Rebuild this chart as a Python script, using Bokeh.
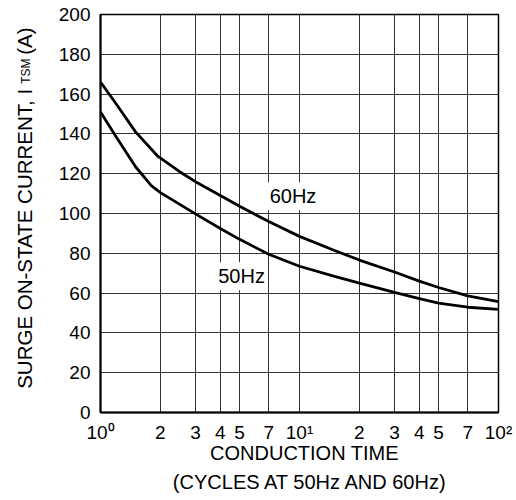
import math
from bokeh.plotting import figure
from bokeh.models import FixedTicker, Label, ColumnDataSource
from bokeh.embed import file_html
from bokeh.resources import INLINE

# ---- data ----
x_60hz = [1, 1.2, 1.5, 1.93, 2.5, 3, 4, 5, 7, 10, 15, 20, 30, 40, 50, 70, 100]
y_60hz = [166, 155, 141, 129, 121, 116, 109, 103.6, 96, 88.5, 81.4, 76.6, 70.6, 66, 62.8, 58.6, 55.7]

x_50hz = [1, 1.2, 1.5, 1.8, 2, 3, 4, 5, 7, 10, 15, 20, 30, 40, 50, 70, 100]
y_50hz = [151, 138.5, 123.5, 114, 110.5, 99.8, 92.5, 87, 79.5, 73.5, 68.4, 65, 60.4, 57.2, 55, 52.9, 51.8]

x_ticks = [1, 2, 3, 4, 5, 7, 10, 20, 30, 40, 50, 70, 100]
x_tick_labels = ["10\u2070", "2", "3", "4", "5", "7", "10\u00b9", "2", "3", "4", "5", "7", "10\u00b2"]
y_ticks = [0, 20, 40, 60, 80, 100, 120, 140, 160, 180, 200]

curve_labels = ["60Hz", "50Hz"]
x_title_lines = ["CONDUCTION TIME", "(CYCLES AT 50Hz AND 60Hz)"]
y_title_main = "SURGE ON-STATE CURRENT, I" + "\u00a0" * 6 + "(A)"
y_title_sub = "TSM"

FONT = "Liberation Sans"

p = figure(width=516, height=500, x_axis_type="log", x_range=(1, 100), y_range=(0, 200),
           output_backend="svg", toolbar_location=None)
p.min_border = 0
p.min_border_left = 100
p.min_border_right = 18
p.min_border_top = 14
p.min_border_bottom = 88
p.background_fill_color = "white"
p.border_fill_color = "white"
p.outline_line_color = "black"
p.outline_line_width = 1.5

# axes
p.xaxis.ticker = FixedTicker(ticks=x_ticks, minor_ticks=[])
p.xaxis.major_label_overrides = {t: l for t, l in zip(x_ticks, x_tick_labels)}
p.yaxis.ticker = FixedTicker(ticks=y_ticks, minor_ticks=[])
for ax in (p.xaxis, p.yaxis):
    ax.major_tick_in = 0
    ax.major_tick_out = 0
    ax.minor_tick_in = 0
    ax.minor_tick_out = 0
    ax.axis_line_color = "black"
    ax.axis_line_width = 2
    ax.major_label_text_font = FONT
    ax.major_label_text_font_size = "19px"
    ax.major_label_text_color = "black"
p.xaxis.major_label_standoff = 9
p.yaxis.major_label_standoff = 10

# grid
for g in (p.xgrid, p.ygrid):
    g.grid_line_color = "black"
    g.grid_line_alpha = 0.8
    g.grid_line_width = 1
p.xgrid.ticker = FixedTicker(ticks=x_ticks, minor_ticks=[])
p.ygrid.ticker = FixedTicker(ticks=y_ticks, minor_ticks=[])

# curves
src60 = ColumnDataSource(dict(x=x_60hz, y=y_60hz))
src50 = ColumnDataSource(dict(x=x_50hz, y=y_50hz))
p.line("x", "y", source=src60, line_color="black", line_width=2.8)
p.line("x", "y", source=src50, line_color="black", line_width=2.8)

# curve labels (white boxes)
p.add_layout(Label(x=7, y=108.7, text=curve_labels[0], text_font=FONT, text_font_size="20px",
                   text_color="black", text_align="left", text_baseline="middle", x_offset=-2,
                   background_fill_color="white", padding=3))
p.add_layout(Label(x=3.86, y=68.5, text=curve_labels[1], text_font=FONT, text_font_size="20px",
                   text_color="black", text_align="left", text_baseline="middle", x_offset=-2,
                   background_fill_color="white", padding=3))


def px_to_y(py):
    return (411.7 - py) / (398.0 / 200.0)


def px_to_x(px):
    return 10 ** ((px - 100) / 199.0)


# x-axis title (two lines) in the below panel
p.add_layout(Label(x=px_to_x(304), y=px_to_y(452.5), text=x_title_lines[0], text_font=FONT,
                   text_font_size="20px", text_color="black",
                   text_align="center", text_baseline="middle"), "below")
p.add_layout(Label(x=px_to_x(310), y=px_to_y(481.5), text=x_title_lines[1], text_font=FONT,
                   text_font_size="20px", text_color="black",
                   text_align="center", text_baseline="middle"), "below")

# y-axis title (rotated) with the TSM subscript, in the left panel
p.add_layout(Label(x=px_to_x(24), y=px_to_y(388), text=y_title_main, angle=math.pi / 2,
                   text_font=FONT, text_font_size="20.5px", text_color="black",
                   text_align="left", text_baseline="middle"), "left")
p.add_layout(Label(x=px_to_x(25), y=px_to_y(83), text=y_title_sub, angle=math.pi / 2,
                   text_font=FONT, text_font_size="12px", text_color="black",
                   text_align="left", text_baseline="middle"), "left")

open("out.html", "w").write(file_html(p, INLINE))
